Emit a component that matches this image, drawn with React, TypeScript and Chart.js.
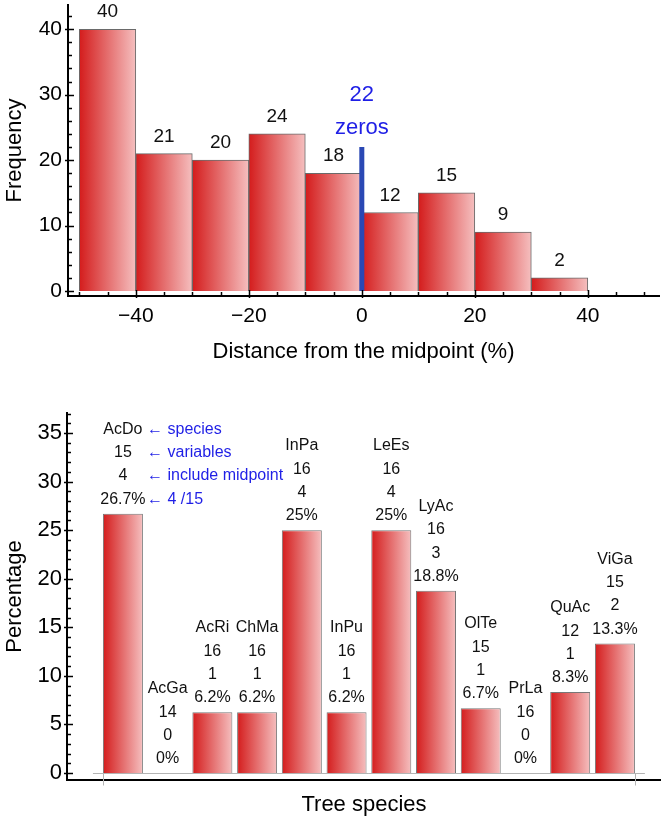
import React, { useEffect, useRef } from 'react';
import { Chart, registerables } from 'chart.js';

Chart.register(...registerables);

const FONT = '"Liberation Sans", Arial, Helvetica, sans-serif';

// ---------- Histogram data ----------
const binCenters = [-45, -35, -25, -15, -5, 5, 15, 25, 35];
const frequencies = [40, 21, 20, 24, 18, 12, 15, 9, 2];
const zeroPosition = 0;
const zeroCount = 22;
const zeroCaption = 'zeros';
const histXTicks = [-40, -20, 0, 20, 40];
const histYTicks = [0, 10, 20, 30, 40];

// ---------- Species data ----------
const species = ['AcDo', 'AcGa', 'AcRi', 'ChMa', 'InPa', 'InPu', 'LeEs', 'LyAc', 'OlTe', 'PrLa', 'QuAc', 'ViGa'];
const variableCounts = [15, 14, 16, 16, 16, 16, 16, 16, 15, 16, 12, 15];
const midpointCounts = [4, 0, 1, 1, 4, 1, 4, 3, 1, 0, 1, 2];
const percentages = [26.7, 0, 6.25, 6.25, 25, 6.25, 25, 18.75, 6.67, 0, 8.33, 13.33];
const percentLabels = ['26.7%', '0%', '6.2%', '6.2%', '25%', '6.2%', '25%', '18.8%', '6.7%', '0%', '8.3%', '13.3%'];
const keyNotes = ['\u2190 species', '\u2190 variables', '\u2190 include midpoint', '\u2190 4 /15'];
const speciesYTicks = [0, 5, 10, 15, 20, 25, 30, 35];

const LEFT = '#d41c1c';
const RIGHT = '#f5bfbf';
const BLUE_TEXT = '#1f1fe6';
const BLUE_LINE = '#2a48b4';

type TickSpec = { from: number; to: number; minor: number; major: number };

function makeGradient(halfUnits: number) {
  return (ctx: any) => {
    const chart = ctx.chart;
    const xs = chart.scales && chart.scales.x;
    const raw = ctx.raw;
    if (!xs || !raw || ctx.type !== 'data') return LEFT;
    const l = xs.getPixelForValue(raw.x - halfUnits);
    const r = xs.getPixelForValue(raw.x + halfUnits);
    if (!isFinite(l) || !isFinite(r) || l === r) return LEFT;
    const g = chart.ctx.createLinearGradient(l, 0, r, 0);
    g.addColorStop(0, LEFT);
    g.addColorStop(1, RIGHT);
    return g;
  };
}

function isMajor(v: number, major: number) {
  return Math.abs(v / major - Math.round(v / major)) < 1e-6;
}

function makeFrameTicks(ySpec: TickSpec | null, xSpec: TickSpec | null) {
  return {
    id: 'frameTicks',
    afterDraw(chart: any) {
      const { ctx, chartArea, scales } = chart;
      ctx.save();
      ctx.strokeStyle = '#000';
      ctx.lineWidth = 1.5;
      if (ySpec) {
        for (let v = ySpec.from; v <= ySpec.to + 1e-9; v += ySpec.minor) {
          const py = Math.round(scales.y.getPixelForValue(v)) + 0.5;
          const major = isMajor(v, ySpec.major);
          ctx.beginPath();
          ctx.moveTo(chartArea.left - (major ? 3 : 0), py);
          ctx.lineTo(chartArea.left + (major ? 6 : 4), py);
          ctx.stroke();
        }
      }
      if (xSpec) {
        for (let v = xSpec.from; v <= xSpec.to + 1e-9; v += xSpec.minor) {
          const px = Math.round(scales.x.getPixelForValue(v)) + 0.5;
          const major = isMajor(v, xSpec.major);
          ctx.beginPath();
          ctx.moveTo(px, chartArea.bottom + (major ? 2 : 0));
          ctx.lineTo(px, chartArea.bottom - (major ? 6 : 4));
          ctx.stroke();
        }
      }
      ctx.restore();
    },
  };
}

const histLabels = {
  id: 'histLabels',
  afterDatasetsDraw(chart: any) {
    const { ctx, scales } = chart;
    const idx = chart.data.datasets.findIndex((d: any) => d.label === 'freq');
    const meta = chart.getDatasetMeta(idx);
    ctx.save();
    ctx.textAlign = 'center';
    ctx.textBaseline = 'middle';
    ctx.fillStyle = '#111';
    ctx.font = `19px ${FONT}`;
    meta.data.forEach((el: any, i: number) => {
      ctx.fillText(String(frequencies[i]), el.x, el.y - 17);
    });
    const zx = scales.x.getPixelForValue(zeroPosition);
    const zy = scales.y.getPixelForValue(zeroCount);
    ctx.fillStyle = BLUE_TEXT;
    ctx.font = `22px ${FONT}`;
    ctx.fillText(String(zeroCount), zx, zy - 52);
    ctx.fillText(zeroCaption, zx, zy - 19);
    ctx.restore();
  },
};

const speciesLabels = {
  id: 'speciesLabels',
  afterDatasetsDraw(chart: any) {
    const { ctx, scales } = chart;
    const meta = chart.getDatasetMeta(0);
    ctx.save();
    // grey baseline
    const y0 = Math.round(scales.y.getPixelForValue(0)) + 0.5;
    ctx.strokeStyle = '#b4b4b4';
    ctx.lineWidth = 1;
    ctx.beginPath();
    ctx.moveTo(scales.x.getPixelForValue(-0.67), y0);
    ctx.lineTo(scales.x.getPixelForValue(species.length - 1 + 0.67), y0);
    ctx.stroke();
    [-0.447, species.length - 1 + 0.447].forEach((v) => {
      const px = Math.round(scales.x.getPixelForValue(v)) + 0.5;
      ctx.beginPath();
      ctx.moveTo(px, y0);
      ctx.lineTo(px, y0 + 12);
      ctx.stroke();
    });
    ctx.textAlign = 'center';
    ctx.textBaseline = 'middle';
    ctx.font = `16px ${FONT}`;
    ctx.fillStyle = '#111';
    const step = 23.3;
    meta.data.forEach((el: any, i: number) => {
      const lines = [species[i], String(variableCounts[i]), String(midpointCounts[i]), percentLabels[i]];
      lines.forEach((t, k) => {
        ctx.fillText(t, el.x, el.y - 14.3 - (lines.length - 1 - k) * step);
      });
    });
    const first = meta.data[0];
    if (first) {
      ctx.textAlign = 'left';
      ctx.fillStyle = BLUE_TEXT;
      const nx = scales.x.getPixelForValue(0.54);
      keyNotes.forEach((t, k) => {
        ctx.fillText(t, nx, first.y - 14.3 - (keyNotes.length - 1 - k) * step);
      });
    }
    ctx.restore();
  },
};

function HistogramChart() {
  const ref = useRef<HTMLCanvasElement>(null);
  useEffect(() => {
    const canvas = ref.current!;
    const chart = new Chart(canvas, {
      type: 'bar',
      data: {
        datasets: [
          {
            type: 'line',
            label: 'zeros',
            data: [
              { x: zeroPosition, y: 0 },
              { x: zeroPosition, y: zeroCount },
            ],
            borderColor: BLUE_LINE,
            borderWidth: 5,
            pointRadius: 0,
            borderCapStyle: 'butt',
            order: 1,
          } as any,
          {
            type: 'bar',
            label: 'freq',
            data: binCenters.map((c, i) => ({ x: c, y: frequencies[i] })),
            backgroundColor: makeGradient(5),
            borderColor: '#6a6a6a',
            borderWidth: 1,
            borderSkipped: 'bottom',
            barPercentage: 1,
            categoryPercentage: 1,
            order: 2,
          } as any,
        ],
      },
      options: {
        responsive: false,
        animation: false,
        devicePixelRatio: 1,
        layout: { padding: { top: 5, right: 2, left: 0, bottom: 0 }, autoPadding: false },
        plugins: {
          legend: { display: false },
          tooltip: { enabled: false },
        },
        scales: {
          x: {
            type: 'linear',
            min: -52,
            max: 52.6,
            offset: false,
            grid: { display: false, drawTicks: false },
            border: { display: true, color: '#000', width: 2 },
            afterBuildTicks: (s: any) => {
              s.ticks = histXTicks.map((v) => ({ value: v }));
            },
            afterFit: (s: any) => {
              s.height = 74;
              s.paddingLeft = 0;
              s.paddingRight = 0;
            },
            ticks: {
              autoSkip: false,
              maxRotation: 0,
              padding: 8,
              color: '#000',
              font: { family: FONT, size: 21 },
              callback: (v: any) => (v < 0 ? '\u2212' + Math.abs(v) : String(v)),
            },
            title: {
              display: true,
              text: 'Distance from the midpoint (%)',
              color: '#000',
              font: { family: FONT, size: 22 },
              padding: { top: 0, bottom: 5 },
            },
          } as any,
          y: {
            type: 'linear',
            min: -0.76,
            max: 43.7,
            grid: { display: false, drawTicks: false },
            border: { display: true, color: '#000', width: 2 },
            afterBuildTicks: (s: any) => {
              s.ticks = histYTicks.map((v) => ({ value: v }));
            },
            afterFit: (s: any) => {
              s.width = 68;
              s.paddingTop = 0;
              s.paddingBottom = 0;
            },
            ticks: {
              autoSkip: false,
              padding: 6,
              color: '#000',
              font: { family: FONT, size: 21 },
            },
            title: {
              display: true,
              text: 'Frequency',
              color: '#000',
              font: { family: FONT, size: 22 },
              padding: { top: 2, bottom: 0 },
            },
          } as any,
        },
      },
      plugins: [
        makeFrameTicks({ from: 0, to: 42, minor: 2, major: 10 }, { from: -50, to: 50, minor: 5, major: 20 }),
        histLabels,
      ],
    } as any);
    return () => chart.destroy();
  }, []);
  return <canvas ref={ref} width={661} height={370} style={{ display: 'block', width: 661, height: 370 }} />;
}

function SpeciesChart() {
  const ref = useRef<HTMLCanvasElement>(null);
  useEffect(() => {
    const canvas = ref.current!;
    const chart = new Chart(canvas, {
      type: 'bar',
      data: {
        datasets: [
          {
            label: 'pct',
            data: percentages.map((p, i) => ({ x: i, y: p })),
            backgroundColor: makeGradient(0.447),
            borderColor: '#777',
            borderWidth: 1,
            borderSkipped: 'bottom',
            barPercentage: 0.894,
            categoryPercentage: 1,
          } as any,
        ],
      },
      options: {
        responsive: false,
        animation: false,
        devicePixelRatio: 1,
        layout: { padding: { top: 43, right: 0, left: 0, bottom: 0 }, autoPadding: false },
        plugins: {
          legend: { display: false },
          tooltip: { enabled: false },
        },
        scales: {
          x: {
            type: 'linear',
            min: -1.25,
            max: 12.03,
            offset: false,
            grid: { display: false, drawTicks: false },
            border: { display: true, color: '#000', width: 2 },
            ticks: { display: false },
            afterFit: (s: any) => {
              s.height = 40;
              s.paddingLeft = 0;
              s.paddingRight = 0;
            },
            title: {
              display: true,
              text: 'Tree species',
              color: '#000',
              font: { family: FONT, size: 22 },
              padding: { top: 0, bottom: 2 },
            },
          } as any,
          y: {
            type: 'linear',
            min: -0.72,
            max: 37.06,
            grid: { display: false, drawTicks: false },
            border: { display: true, color: '#000', width: 2 },
            afterBuildTicks: (s: any) => {
              s.ticks = speciesYTicks.map((v) => ({ value: v }));
            },
            afterFit: (s: any) => {
              s.width = 67;
              s.paddingTop = 0;
              s.paddingBottom = 0;
            },
            ticks: {
              autoSkip: false,
              padding: 5,
              color: '#000',
              font: { family: FONT, size: 22 },
            },
            title: {
              display: true,
              text: 'Percentage',
              color: '#000',
              font: { family: FONT, size: 22 },
              padding: { top: 2, bottom: 0 },
            },
          } as any,
        },
      },
      plugins: [makeFrameTicks({ from: 0, to: 37, minor: 1, major: 5 }, null), speciesLabels],
    } as any);
    return () => chart.destroy();
  }, []);
  return <canvas ref={ref} width={661} height={450} style={{ display: 'block', width: 661, height: 450 }} />;
}

export default function App() {
  return (
    <div style={{ position: 'absolute', left: 0, top: 0, width: 661, height: 820, background: '#fff' }}>
      <HistogramChart />
      <SpeciesChart />
    </div>
  );
}
